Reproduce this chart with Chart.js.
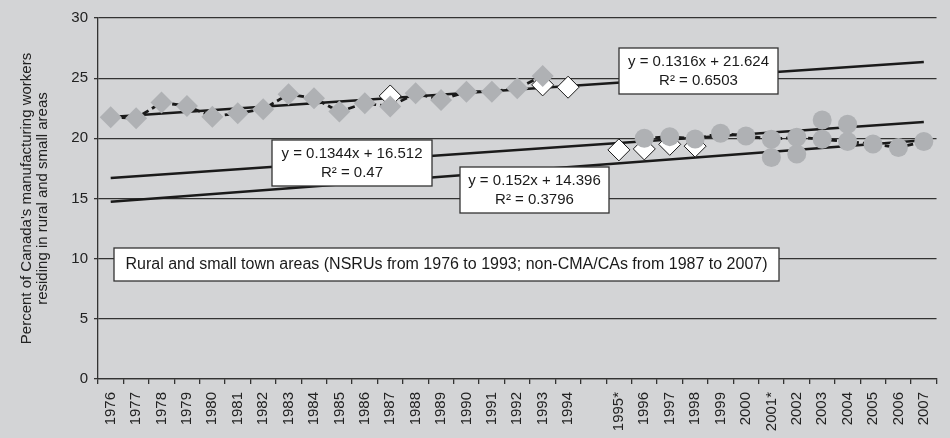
<!DOCTYPE html>
<html>
<head>
<meta charset="utf-8">
<title>Manufacturing workers in rural and small town areas</title>
<script src="https://cdn.jsdelivr.net/npm/chart.js@4.4.1/dist/chart.umd.min.js"></script>
<style>
    html, body { margin: 0; padding: 0; background: #d3d4d6; }
    #wrap { width: 950px; height: 438px; }
</style>
</head>
<body>
<div id="wrap"><canvas id="chart" width="950" height="438"></canvas></div>
<script>
// Kategorije (prazno mjesto između 1994 i 1995*)
const years = ['1976', '1977', '1978', '1979', '1980', '1981', '1982', '1983', '1984', '1985',
    '1986', '1987', '1988', '1989', '1990', '1991', '1992', '1993', '1994', '',
    '1995*', '1996', '1997', '1998', '1999', '2000', '2001*', '2002', '2003', '2004',
    '2005', '2006', '2007'];

// NSRU serija (sivi rombovi), 1976-1993
const nsruValues = [21.75, 21.67, 22.97, 22.69, 21.80, 22.09, 22.42, 23.67, 23.33, 22.22,
    22.92, 22.64, 23.74, 23.19, 23.88, 23.88, 24.16, 25.19, null, null,
    null, null, null, null, null, null, null, null, null, null,
    null, null, null];

// bijeli rombovi
const whiteValues = [null, null, null, null, null, null, null, null, null, null,
    null, 23.52, null, null, null, null, null, 24.44, 24.25, null,
    19.04, 19.12, 19.50, 19.35, null, null, null, null, null, null,
    null, null, null];

// non-CMA/CA serija (sivi krugovi), 1996-2007
const cmaValues = [null, null, null, null, null, null, null, null, null, null,
    null, null, null, null, null, null, null, null, null, null,
    null, 20.00, 20.14, 19.95, 20.42, 20.20, 19.93, 20.09, 19.92, 19.73,
    19.53, 19.23, 19.73];

// dodatni krugovi 2001*-2004
const extraValues = [null, null, null, null, null, null, null, null, null, null,
    null, null, null, null, null, null, null, null, null, null,
    null, null, null, null, null, null, 18.40, 18.70, 21.53, 21.17,
    null, null, null];

// linije trenda: vrijednost u 1976. i 2007.
const trendUpper = [21.78, 26.35];
const trendMiddle = [16.70, 21.36];
const trendLower = [14.74, 19.85];

const yTicks = [0, 5, 10, 15, 20, 25, 30];

const yTitle = ["Percent of Canada's manufacturing workers", 'residing in rural and small areas'];

const notes = [
    { box: [619, 48, 778, 94], lines: ['y = 0.1316x + 21.624', 'R\u00B2 = 0.6503'] },
    { box: [272, 140, 432, 186], lines: ['y = 0.1344x + 16.512', 'R\u00B2 = 0.47'] },
    { box: [460, 167, 609, 213], lines: ['y = 0.152x + 14.396', 'R\u00B2 = 0.3796'] }
];
const legendNote = 'Rural and small town areas (NSRUs from 1976 to 1993; non-CMA/CAs from 1987 to 2007)';

const FONT = 'Liberation Sans, Arial, sans-serif';
const GRAY = '#afb1b4';
const INK = '#1a1a1a';

function trendData(ends) {
    const arr = years.map(() => null);
    arr[0] = ends[0];
    arr[years.length - 1] = ends[1];
    return arr;
}

function trendSet(ends) {
    return {
        type: 'line',
        data: trendData(ends),
        spanGaps: true,
        borderColor: INK,
        borderWidth: 2.5,
        pointRadius: 0,
        order: 10
    };
}

// pozadina, naslov osi i okviri s jednadžbama
const decor = {
    id: 'decor',
    beforeDraw(chart) {
        const ctx = chart.ctx;
        ctx.save();
        ctx.fillStyle = '#d3d4d6';
        ctx.fillRect(0, 0, chart.width, chart.height);
        ctx.restore();
    },
    afterDatasetsDraw(chart) {
        const ctx = chart.ctx;
        const area = chart.chartArea;
        ctx.save();

        // naslov y osi
        ctx.fillStyle = '#222';
        ctx.font = '15px ' + FONT;
        ctx.textAlign = 'center';
        ctx.textBaseline = 'middle';
        ctx.translate(0, (area.top + area.bottom) / 2);
        ctx.rotate(-Math.PI / 2);
        ctx.fillText(yTitle[0], 0, 26.7);
        ctx.fillText(yTitle[1], 0, 43.3);
        ctx.setTransform(1, 0, 0, 1, 0, 0);

        ctx.lineWidth = 1.3;
        ctx.strokeStyle = '#333';
        ctx.font = '15px ' + FONT;
        notes.forEach(n => {
            const [x1, y1, x2, y2] = n.box;
            ctx.fillStyle = '#fff';
            ctx.fillRect(x1, y1, x2 - x1, y2 - y1);
            ctx.strokeRect(x1, y1, x2 - x1, y2 - y1);
            ctx.fillStyle = INK;
            const cx = (x1 + x2) / 2;
            const cy = (y1 + y2) / 2;
            ctx.fillText(n.lines[0], cx, cy - 9.5);
            ctx.fillText(n.lines[1], cx, cy + 9.5);
        });

        // veliki okvir
        ctx.fillStyle = '#fff';
        ctx.fillRect(114, 248, 665, 33);
        ctx.strokeRect(114, 248, 665, 33);
        ctx.fillStyle = INK;
        ctx.font = '16px ' + FONT;
        ctx.fillText(legendNote, 114 + 665 / 2, 265);

        ctx.restore();
    }
};

new Chart(document.getElementById('chart'), {
    type: 'line',
    data: {
        labels: years,
        datasets: [
            trendSet(trendUpper),
            trendSet(trendMiddle),
            trendSet(trendLower),
            {
                label: 'White',
                data: whiteValues,
                showLine: false,
                pointStyle: 'rectRot',
                pointRadius: 11,
                pointBackgroundColor: '#ffffff',
                pointBorderColor: INK,
                pointBorderWidth: 1,
                order: 4
            },
            {
                label: 'NSRU',
                data: nsruValues,
                borderColor: INK,
                borderWidth: 2.8,
                borderDash: [7, 4],
                pointStyle: 'rectRot',
                pointRadius: 11,
                pointBackgroundColor: GRAY,
                pointBorderWidth: 0,
                order: 3
            },
            {
                label: 'non-CMA/CA',
                data: cmaValues,
                borderColor: INK,
                borderWidth: 2.8,
                borderDash: [7, 4],
                pointStyle: 'circle',
                pointRadius: 9.5,
                pointBackgroundColor: GRAY,
                pointBorderWidth: 0,
                order: 2
            },
            {
                label: 'Extra',
                data: extraValues,
                showLine: false,
                pointStyle: 'circle',
                pointRadius: 9.5,
                pointBackgroundColor: GRAY,
                pointBorderWidth: 0,
                order: 1
            }
        ]
    },
    options: {
        responsive: false,
        animation: false,
        devicePixelRatio: 1,
        layout: { padding: { top: 18, right: 9, left: 0, bottom: 0 } },
        plugins: {
            legend: { display: false },
            tooltip: { enabled: false }
        },
        scales: {
            x: {
                offset: true,
                grid: { drawOnChartArea: false, offset: true, tickLength: 5, color: '#333', lineWidth: 1.3 },
                border: { color: '#333', width: 1.3 },
                ticks: {
                    autoSkip: false, minRotation: 90, maxRotation: 90, padding: 8,
                    color: '#222', font: { family: FONT, size: 15 }
                },
                afterFit(scale) { scale.height = 59; }
            },
            y: {
                min: 0,
                max: 30,
                afterBuildTicks(scale) { scale.ticks = yTicks.map(v => ({ value: v })); },
                grid: { color: '#333', lineWidth: 1.3, tickLength: 4 },
                border: { color: '#333', width: 1.3 },
                ticks: { padding: 6, color: '#222', font: { family: FONT, size: 15 } },
                afterFit(scale) { scale.width = 98; }
            }
        }
    },
    plugins: [decor]
});
</script>
</body>
</html>
